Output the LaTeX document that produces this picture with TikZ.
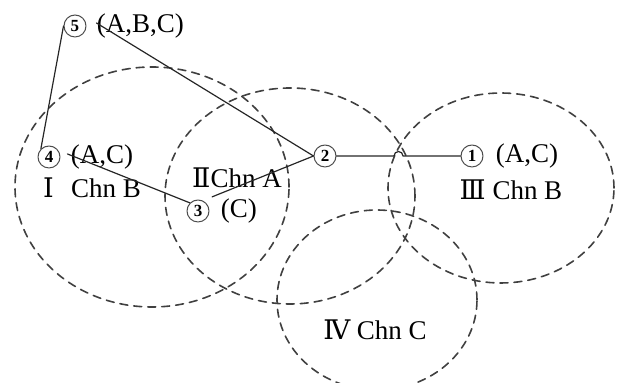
\documentclass[tikz,border=0pt]{standalone}
\usepackage{fontspec}
\setmainfont{Liberation Serif}
\newfontfamily\romfont{DejaVu Serif}
\usetikzlibrary{positioning}

\begin{document}
\begin{tikzpicture}[x=0.5pt,y=-0.5pt,line cap=round,line join=round,
  vtx/.style={circle,draw=black!70,line width=0.5pt,minimum size=11pt,inner sep=0pt,
    font=\fontsize{8.5}{8.5}\selectfont\bfseries},
  lbl/.style={inner sep=1pt,font=\fontsize{13.5}{15}\selectfont},
  cell/.style={draw=black!75,line width=0.8pt,dash pattern=on 4pt off 3pt},
  link/.style={draw=black!85,line width=0.6pt}]
\useasboundingbox (0,0) rectangle (617,383);
\clip (0,0) rectangle (617,383);
% coverage areas
\draw[cell] (152,187) ellipse [x radius=68.5pt, y radius=60pt];
\draw[cell] (290,196) ellipse [x radius=62.5pt, y radius=54pt];
\draw[cell] (501,188) ellipse [x radius=56.5pt, y radius=47.5pt];
\draw[cell] (377,300) ellipse [x radius=50pt, y radius=45pt];
% vehicles
\node[vtx] (n5) at (75,26) {5};
\node[vtx] (n4) at (49,157) {4};
\node[vtx] (n3) at (198,211) {3};
\node[vtx] (n2) at (325,156) {2};
\node[vtx] (n1) at (472,156) {1};
\node[lbl,right=4pt of n5] (l5) {(A,B,C)};
\node[lbl,right=4pt of n4] (l4) {(A,C)};
\node[lbl,right=4.5pt of n3] (l3) {(C)};
\node[lbl,right=5pt of n1] (l1) {(A,C)};
% cell names
\node[lbl] (c1) at (92,188) {{\romfont Ⅰ}\hspace{0.4em} Chn B};
\node[lbl] (c2) at (237,178) {{\romfont Ⅱ}Chn A};
\node[lbl] (c3) at (511,190) {{\romfont Ⅲ} Chn B};
\node[lbl] (c4) at (375,330) {{\romfont Ⅳ} Chn C};
% links
\coordinate (hop) at (394,156);
\draw[link] (n5.west) -- (n4.north west);
\draw[link] ([xshift=5pt,yshift=1.5pt]n5.east) -- (n2.west);
\draw[link] ([xshift=3.5pt,yshift=1.5pt]n4.east) -- (n3.north west);
\draw[link] ([xshift=3pt,yshift=3pt]n3.north east) -- (n2.west);
\draw[link] (n2.east) -- (hop) arc[start angle=180,end angle=0,radius=2.25pt] -- (n1.west);
\end{tikzpicture}
\end{document}
